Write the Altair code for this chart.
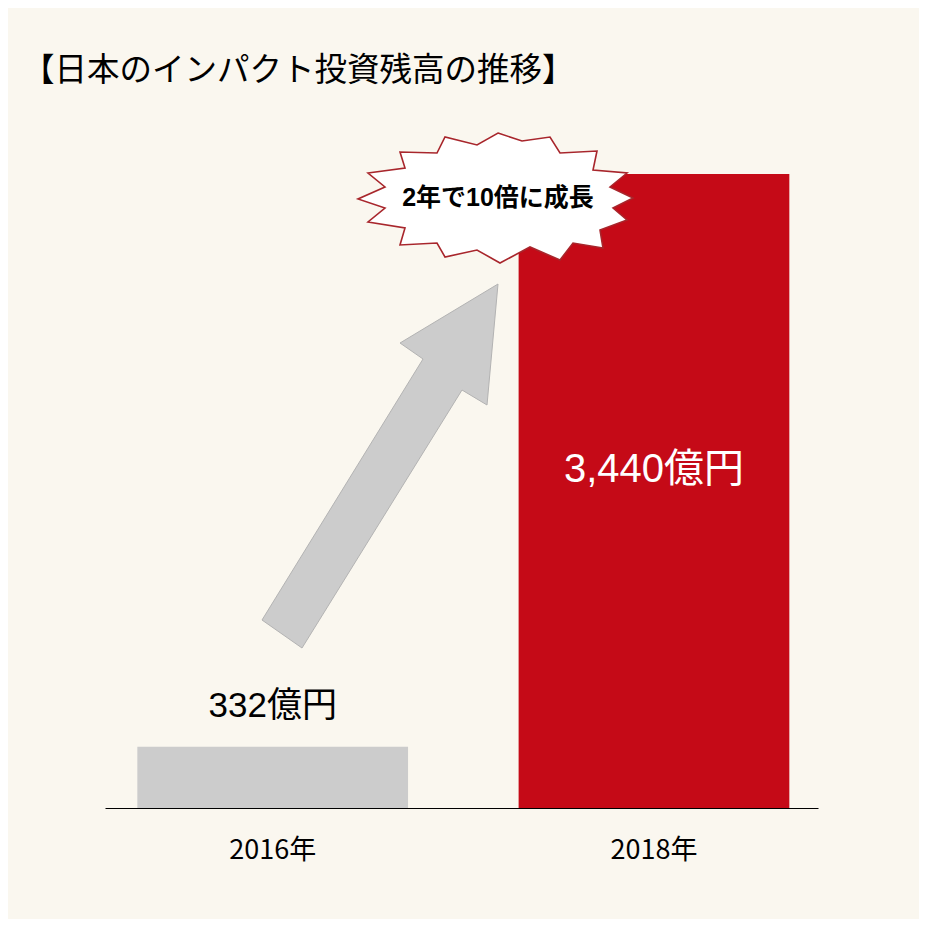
import altair as alt
import pandas as pd

# ---- data ----
years = ["2016年", "2018年"]
values = [332, 3440]
value_labels = ["332億円", "3,440億円"]
bar_colors = ["#cccccc", "#c50a17"]

title_text = "【日本のインパクト投資残高の推移】"
burst_text = "2年で10倍に成長"

# ---- decorative shapes (pixel offsets from their anchor) ----
arrow_pts = [(-118, 154), (-78, 182), (82, -76), (107, -61), (118, -182),
             (20, -123), (43, -107)]
burst_pts = [(1, -65), (25, -57), (53, -61), (63, -45), (100, -47), (96, -28),
             (130, -25), (113, -11), (136, 0), (116, 10), (130, 22), (103, 32),
             (106, 50), (76, 45), (63, 62), (33, 49), (3, 65), (-20, 52),
             (-52, 59), (-60, 45), (-97, 47), (-92, 30), (-129, 24), (-112, 10),
             (-139, 1), (-112, -11), (-129, -25), (-92, -30), (-97, -46),
             (-60, -45), (-52, -61), (-20, -53)]


def to_path(pts):
    return "M" + " L".join(f"{x},{y}" for x, y in pts) + " Z"


df = pd.DataFrame({"year": years, "value": values, "label": value_labels,
                   "color": bar_colors})

FONT = "Liberation Sans, Noto Sans CJK JP, sans-serif"
NARROW = "Liberation Sans Narrow, Noto Sans CJK JP, sans-serif"
W, H = 713, 634

base = alt.Chart(df)

bars = base.mark_bar(strokeWidth=0).encode(
    x=alt.X("year:N", sort=years,
            scale=alt.Scale(paddingInner=0.29, paddingOuter=0.08, align=0.53),
            axis=alt.Axis(title=None, domainColor="black", domainWidth=1.2,
                          ticks=False, labelAngle=0, labelFontSize=27,
                          labelFont=NARROW, labelColor="black", labelPadding=29,
                          grid=False)),
    y=alt.Y("value:Q", scale=alt.Scale(domain=[0, 3440], nice=False, zero=True),
            axis=None),
    color=alt.Color("color:N", scale=None),
)

lbl_small = base.transform_filter(alt.datum.year == years[0]).mark_text(
    font=FONT, fontSize=35, color="black", baseline="middle", dy=-41
).encode(x=alt.X("year:N", sort=years), y="value:Q", text="label:N")

lbl_big = base.transform_filter(alt.datum.year == years[1]).mark_text(
    font=FONT, fontSize=40, color="white", baseline="middle", dy=296
).encode(x=alt.X("year:N", sort=years), y="value:Q", text="label:N")

one = alt.Chart(pd.DataFrame({"t": [title_text], "b": [burst_text]}))

arrow = one.mark_point(shape=to_path(arrow_pts), filled=True, fill="#cccccc",
                       stroke="#b3b3b3", strokeWidth=1, opacity=1).encode(
    x=alt.value(275), y=alt.value(292), size=alt.value(4))

burst = one.mark_point(shape=to_path(burst_pts), filled=True, fill="white",
                       stroke="#a8262c", strokeWidth=1.6, opacity=1).encode(
    x=alt.value(392), y=alt.value(24), size=alt.value(4))

burst_lbl = one.mark_text(font=FONT, fontSize=25,
                          fontWeight="bold", color="black", baseline="middle",
                          align="center").encode(
    x=alt.value(393), y=alt.value(24), text="b:N")

title = one.mark_text(font="Noto Sans CJK JP, sans-serif", fontSize=32.5,
                      color="black", baseline="middle", align="left").encode(
    x=alt.value(-83), y=alt.value(-103), text="t:N")

chart = alt.layer(bars, arrow, burst, burst_lbl, lbl_small, lbl_big, title).properties(
    width=W, height=H,
    autosize=alt.AutoSizeParams(type="none"),
    padding={"left": 97, "top": 166, "right": 101, "bottom": 111},
    background="#faf7ef",
).configure_view(strokeWidth=0)

chart.save("out.html", embed_options={"renderer": "svg", "actions": False})
